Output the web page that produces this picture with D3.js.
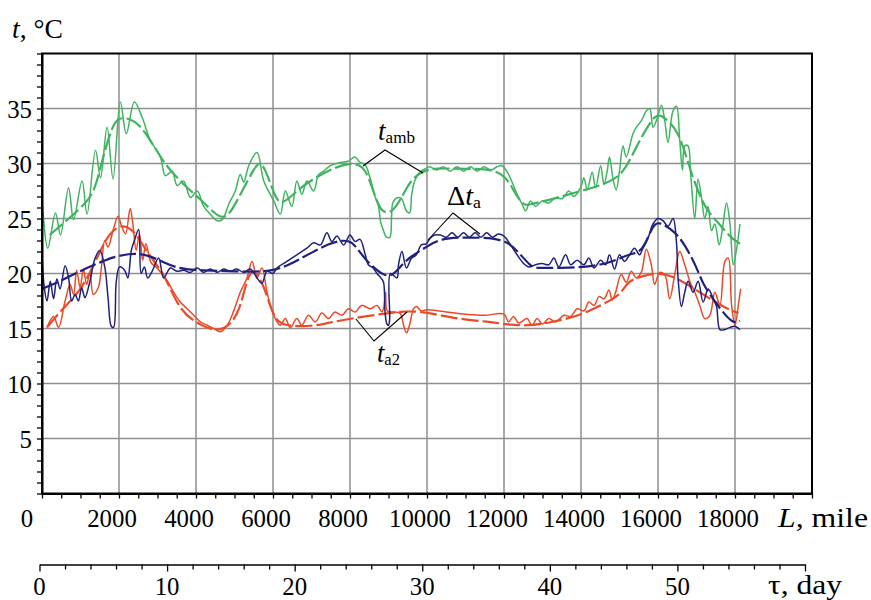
<!DOCTYPE html>
<html><head><meta charset="utf-8">
<script src="https://cdn.jsdelivr.net/npm/d3@7"></script>
<style>body{margin:0;background:#fff}svg{display:block}</style>
</head><body><svg id="c" width="871" height="600"></svg>
<script>
// ---- data: [L (mile), t (°C)] ----
const tambRaw = [[0,26.9],[150,22.3],[350,25.5],[480,23.5],[690,27.8],[820,24.9],[1040,28.4],[1170,25.4],[1390,31.2],[1520,28.7],[1690,33.3],[1845,28.6],[2035,35.6],[2190,32.7],[2400,35.6],[2600,34.2],[2815,32.1],[3075,30.6],[3205,28.9],[3380,29.3],[3510,28.0],[3680,28.4],[3855,26.9],[4030,27.5],[4200,26.1],[4370,25.4],[4550,24.8],[4680,24.9],[4850,26.3],[5020,27.5],[5150,29.0],[5240,28.3],[5370,29.8],[5585,31.0],[5760,28.4],[6020,26.6],[6190,25.4],[6320,27.5],[6490,26.1],[6620,28.4],[6750,27.2],[6880,28.4],[7055,27.5],[7185,29.0],[7315,29.3],[7490,29.8],[7745,30.1],[7950,30.2],[8130,30.6],[8260,30.1],[8390,29.9],[8520,28.7],[8650,27.0],[8735,26.2],[8795,24.7],[8860,24.0],[8950,23.3],[9035,23.3],[9080,25.2],[9120,26.5],[9250,26.9],[9340,26.8],[9465,25.7],[9550,25.5],[9600,27.1],[9680,28.4],[9810,29.2],[9940,29.5],[10070,29.7],[10250,29.4],[10420,29.7],[10600,29.3],[10780,29.7],[10950,29.3],[11130,29.7],[11300,29.3],[11480,29.7],[11650,29.4],[11820,29.7],[11950,29.8],[12120,29.0],[12340,27.2],[12470,26.3],[12560,25.7],[12690,26.6],[12820,26.1],[12990,26.6],[13165,26.4],[13340,26.9],[13510,26.8],[13685,27.5],[13815,27.0],[13990,27.8],[14075,28.7],[14160,27.6],[14290,29.2],[14380,27.8],[14510,29.8],[14595,28.1],[14680,29.3],[14740,30.6],[14827,28.7],[14914,27.6],[15000,29.3],[15090,31.6],[15175,30.6],[15350,32.7],[15440,33.3],[15570,33.9],[15700,34.8],[15785,35.0],[15870,33.3],[15960,33.9],[16090,35.3],[16175,33.9],[16260,31.9],[16390,34.8],[16480,35.2],[16565,32.1],[16635,29.4],[16695,31.6],[16780,31.6],[16845,29.2],[16955,25.0],[17040,28.6],[17130,26.9],[17215,25.0],[17300,26.1],[17390,23.9],[17475,24.5],[17590,22.6],[17690,24.5],[17780,26.4],[17870,24.5],[17955,20.8],[18040,22.2],[18130,24.5]];
const tambSmooth = [[200,23.5],[700,25.0],[1245,26.7],[1420,28.2],[1600,30.8],[1808,33.2],[1970,34.2],[2280,34.1],[2540,33.5],[2800,32.2],[3075,30.6],[3300,29.5],[3700,28.0],[4100,26.8],[4500,25.4],[4700,25.0],[4900,25.5],[5200,27.5],[5500,29.5],[5650,30.2],[5800,29.5],[6000,27.5],[6190,26.0],[6600,27.5],[7000,28.5],[7500,29.5],[8000,30.1],[8350,29.8],[8520,28.4],[8690,26.6],[8820,25.7],[8950,25.5],[9120,25.7],[9290,26.6],[9460,27.7],[9640,28.7],[9900,29.3],[10200,29.6],[11000,29.5],[11950,29.5],[12250,27.5],[12510,26.1],[12700,26.3],[13300,26.8],[13990,27.5],[14510,28.0],[15030,28.8],[15300,30.5],[15520,32.1],[15870,34.2],[16040,34.5],[16260,33.9],[16520,32.9],[16740,30.6],[16960,28.1],[17260,25.7],[17600,24.5],[17870,23.3],[18130,22.7]];
const dtaRaw = [[0,21.8],[60,18.7],[130,17.5],[215,19.3],[300,17.7],[385,19.5],[470,18.6],[600,20.7],[690,19.6],[770,17.5],[860,18.1],[945,17.5],[1030,18.7],[1115,17.8],[1245,19.3],[1370,21.3],[1500,22.1],[1630,20.6],[1715,17.8],[1800,15.2],[1860,15.1],[1930,19.3],[2015,20.6],[2145,20.3],[2230,19.6],[2320,22.1],[2400,23.0],[2510,24.0],[2575,20.0],[2660,20.6],[2745,19.6],[2860,20.2],[3030,21.4],[3160,19.6],[3335,20.5],[3505,20.2],[3680,20.3],[3850,20.1],[4030,20.5],[4200,20.1],[4370,20.4],[4550,20.1],[4720,20.4],[4890,20.2],[5060,20.4],[5240,20.1],[5410,20.4],[5585,19.6],[5710,19.1],[5845,20.2],[6000,20.0],[6100,20.5],[6360,21.1],[6620,21.7],[6880,22.3],[7055,22.8],[7230,22.6],[7400,23.7],[7530,22.9],[7660,23.4],[7835,22.6],[8000,23.5],[8130,22.9],[8260,23.1],[8390,21.8],[8475,20.8],[8600,20.5],[8700,20.0],[8800,19.6],[8870,19.2],[8910,16.5],[8960,15.4],[9000,15.3],[9030,15.8],[9050,20.0],[9220,19.6],[9260,20.8],[9350,22.0],[9465,20.5],[9600,21.4],[9725,21.7],[9850,22.6],[9980,22.7],[10080,23.2],[10200,23.5],[10350,23.5],[10500,23.3],[10650,23.7],[10800,23.3],[10950,23.7],[11100,23.3],[11250,23.7],[11400,23.3],[11550,23.7],[11700,23.3],[11850,23.6],[12000,23.4],[12170,22.6],[12340,21.7],[12510,20.9],[12640,20.6],[12820,20.8],[12990,20.9],[13165,20.8],[13295,21.4],[13425,20.6],[13600,21.7],[13730,20.8],[13900,21.2],[14075,20.8],[14205,21.4],[14335,20.5],[14510,21.2],[14640,20.8],[14740,21.7],[14870,20.4],[15000,21.7],[15130,21.1],[15262,21.7],[15390,22.3],[15520,21.7],[15609,22.3],[15740,23.2],[15870,24.5],[16000,25.0],[16130,24.8],[16260,24.3],[16391,25.0],[16478,22.9],[16521,19.6],[16608,17.0],[16695,18.3],[16782,19.3],[16912,18.3],[17043,19.3],[17173,17.4],[17304,18.6],[17434,17.7],[17521,17.0],[17608,14.9],[17738,14.9],[17868,15.1],[17998,15.2],[18129,14.9]];
const dtaSmooth = [[0,18.6],[470,19.3],[815,19.9],[1150,20.5],[1500,21.0],[1845,21.5],[2270,21.8],[2560,21.8],[2870,21.5],[3170,21.0],[3500,20.5],[4000,20.3],[5000,20.2],[6000,20.1],[6600,21.1],[7500,22.9],[8000,23.1],[8180,22.3],[8440,21.1],[8700,20.3],[8900,19.8],[9100,19.8],[9300,20.6],[9550,21.5],[9980,22.4],[10350,23.2],[11000,23.3],[12000,23.2],[12340,22.1],[12700,20.6],[12860,20.5],[13470,20.5],[14150,20.6],[14680,20.9],[15030,21.4],[15300,21.8],[15610,22.0],[15870,24.5],[16040,24.7],[16390,23.9],[16520,23.4],[16700,22.6],[17000,20.6],[17170,19.0],[17430,17.7],[17610,16.8],[17950,15.4],[18130,15.7]];
const ta2Raw = [[130,15.1],[300,16.1],[430,15.1],[600,17.5],[730,19.0],[820,18.1],[900,20.3],[990,18.7],[1075,20.4],[1160,19.0],[1245,20.1],[1330,18.1],[1460,18.7],[1545,20.6],[1630,23.0],[1715,22.4],[1845,23.9],[1975,25.2],[2060,24.4],[2170,23.6],[2290,25.9],[2360,24.5],[2445,22.1],[2530,23.6],[2615,21.2],[2700,22.7],[2830,21.0],[2960,20.6],[3130,19.9],[3260,19.3],[3420,18.3],[3590,17.4],[3770,16.8],[3940,16.2],[4110,15.6],[4290,15.3],[4460,15.0],[4630,14.7],[4810,15.3],[4980,16.6],[5150,18.3],[5325,19.6],[5455,21.1],[5585,19.6],[5715,20.5],[5845,18.3],[6020,16.2],[6190,15.3],[6320,15.9],[6450,15.1],[6620,15.9],[6750,15.3],[6920,16.2],[7100,15.6],[7270,16.4],[7440,15.9],[7610,16.5],[7790,16.2],[7960,16.8],[8130,16.5],[8300,17.1],[8530,16.8],[8700,17.1],[8830,16.5],[8880,17.0],[8925,18.3],[8970,16.6],[9150,16.5],[9300,16.4],[9400,15.2],[9470,14.6],[9560,15.5],[9650,16.8],[9727,17.0],[9850,16.6],[10000,16.7],[10500,16.5],[11000,16.3],[11500,16.2],[12000,16.3],[12120,15.6],[12250,16.1],[12380,15.5],[12600,15.9],[12730,15.3],[12860,15.9],[13000,15.4],[13160,15.9],[13340,15.6],[13555,16.2],[13730,16.1],[13900,16.8],[14075,16.6],[14205,17.4],[14340,17.1],[14470,17.9],[14600,17.7],[14725,18.5],[14810,17.6],[14900,18.3],[15044,19.9],[15175,19.2],[15305,20.2],[15435,19.6],[15565,20.1],[15696,22.2],[15826,20.8],[15913,19.0],[16043,20.1],[16175,19.9],[16304,17.7],[16435,19.9],[16565,22.0],[16695,20.8],[16825,19.3],[16956,18.3],[17086,17.1],[17217,15.9],[17347,16.2],[17477,18.3],[17608,17.1],[17738,21.1],[17825,21.4],[17912,17.1],[18000,15.3],[18086,17.1],[18146,18.6]];
const ta2Smooth = [[130,15.1],[560,16.9],[990,18.4],[1330,20.6],[1670,23.3],[1930,24.2],[2190,24.4],[2450,23.6],[2700,22.1],[2960,20.9],[3220,19.6],[3590,16.5],[4110,15.3],[4550,14.7],[4900,15.3],[5150,16.8],[5330,19.6],[5500,20.5],[5760,19.0],[6020,15.9],[6280,15.2],[7055,15.2],[7400,15.5],[8180,16.0],[8800,16.3],[9400,16.6],[10000,16.5],[10700,15.9],[11650,15.6],[12000,15.4],[12600,15.2],[13300,15.6],[13990,16.2],[14500,17.1],[15030,18.0],[15200,19.3],[15600,19.8],[16050,20.1],[16480,19.6],[16900,18.7],[17350,17.7],[17780,16.8],[18090,16.4]];
const yTickLabels = [5,10,15,20,25,30,35];
const lTickLabels = [0,2000,4000,6000,8000,10000,12000,14000,16000,18000];
const tauTickLabels = [0,10,20,30,40,50];

// ---- layout ----
const svg = d3.select("#c");
const X0=42, X1=812, Y0=493.5, Y1=53.5;
const x = d3.scaleLinear().domain([0,20000]).range([X0,X1]);
const y = d3.scaleLinear().domain([0,40]).range([Y0,Y1]);
const tau = d3.scaleLinear().domain([0,60]).range([39.5,805]);
const GREEN="#3fb460", BLUE="#20207e", RED="#ec4a26";
const DIGIT = 12.4; // width of one digit
function txt(sel){ return sel.style("font-family",'"Liberation Serif"').attr("lengthAdjust","spacingAndGlyphs"); }

// grid
const g = svg.append("g");
g.selectAll(".gx").data(d3.range(2000,20000,2000)).join("line")
  .attr("x1",d=>x(d)).attr("x2",d=>x(d)).attr("y1",Y1).attr("y2",Y0)
  .attr("stroke","#8e8e8e").attr("stroke-width",1.5);
g.selectAll(".gy").data(d3.range(5,40,5)).join("line")
  .attr("x1",X0).attr("x2",X1).attr("y1",d=>y(d)).attr("y2",d=>y(d))
  .attr("stroke","#8e8e8e").attr("stroke-width",1.5);

// curves
const line = d3.line().x(d=>x(d[0])).y(d=>y(d[1])).curve(d3.curveCatmullRom.alpha(0.5));
const smooth = d3.line().x(d=>x(d[0])).y(d=>y(d[1])).curve(d3.curveBasis);
const series = [
  [tambRaw,GREEN,false],[tambSmooth,GREEN,true],
  [ta2Raw,RED,false],[ta2Smooth,RED,true],
  [dtaRaw,BLUE,false],[dtaSmooth,BLUE,true]
];
series.forEach(([d,c,s])=>{
  svg.append("path").attr("d",(s?smooth:line)(d)).attr("fill","none")
    .attr("stroke",c).attr("stroke-width",s?2.2:1.5)
    .attr("stroke-dasharray",s?"17,4":null).attr("stroke-linejoin","round");
});

// frame
svg.append("rect").attr("x",X0).attr("y",Y1).attr("width",X1-X0).attr("height",Y0-Y1)
  .attr("fill","none").attr("stroke","#000").attr("stroke-width",2);

// axes
const ax = svg.append("g").attr("transform",`translate(0,${Y0})`)
  .call(d3.axisBottom(x).tickValues(d3.range(0,20001,500)).tickSize(5).tickSizeOuter(0).tickFormat(""));
ax.select(".domain").attr("stroke-width",2);
ax.selectAll(".tick line").attr("stroke-width",1.3);
ax.selectAll("text").remove();
txt(svg.selectAll(".lt").data(lTickLabels).join("text").attr("class","lt")
  .attr("x",d=>x(d)-(d===0?15:7)).attr("y",527).attr("text-anchor","middle")
  .attr("font-size",25).attr("textLength",d=>String(d).length*DIGIT).text(d=>d));
const lt = txt(svg.append("text").attr("x",778).attr("y",527).attr("font-size",27).attr("textLength",90));
lt.append("tspan").style("font-style","italic").text("L");
lt.append("tspan").text(", mile");

const ay = svg.append("g").attr("transform",`translate(${X0},0)`)
  .call(d3.axisLeft(y).tickValues(d3.range(0,41,1)).tickSize(5).tickSizeOuter(0).tickFormat(""));
ay.select(".domain").attr("stroke-width",2);
ay.selectAll(".tick line").attr("stroke-width",1.3);
ay.selectAll("text").remove();
txt(svg.selectAll(".yt").data(yTickLabels).join("text").attr("class","yt")
  .attr("x",32).attr("y",d=>y(d)+9).attr("text-anchor","end")
  .attr("font-size",25).attr("textLength",d=>String(d).length*DIGIT).text(d=>d));
const yl = txt(svg.append("text").attr("x",12).attr("y",38).attr("font-size",27).attr("textLength",51));
yl.append("tspan").style("font-style","italic").text("t");
yl.append("tspan").text(", °C");

const at = svg.append("g").attr("transform","translate(0,564.5)")
  .call(d3.axisBottom(tau).tickValues(d3.range(0,61,2)).tickSize(5).tickSizeOuter(0).tickFormat(""));
at.select(".domain").attr("stroke-width",1.6);
at.selectAll(".tick line").attr("stroke-width",1.3).attr("y2",d=>d%10===0?7:5);
at.selectAll("text").remove();
txt(svg.selectAll(".tt").data(tauTickLabels).join("text").attr("class","tt")
  .attr("x",d=>tau(d)).attr("y",595).attr("text-anchor","middle")
  .attr("font-size",25).attr("textLength",d=>String(d).length*DIGIT).text(d=>d));
txt(svg.append("text").attr("x",768).attr("y",594).attr("font-size",27).attr("textLength",74).text("τ, day"));

// annotations
function leader(pts){
  svg.append("path").attr("d",d3.line()(pts)).attr("fill","none").attr("stroke","#000").attr("stroke-width",1.1);
}
leader([[363,166],[385,150],[423,173]]);
leader([[428,240],[453,213],[480,234]]);
leader([[356,319],[374,341],[407,312]]);
function label(xp,yp,w,main,sub,pre){
  const t = txt(svg.append("text").attr("x",xp).attr("y",yp).attr("font-size",27).attr("textLength",w));
  if(pre) t.append("tspan").text(pre);
  t.append("tspan").style("font-style","italic").text(main);
  t.append("tspan").attr("font-size",17).attr("dy",3).text(sub);
}
label(378,140,37,"t","amb");
label(447,205,34,"t","a","Δ");
label(377,362,23,"t","a2");
</script></body></html>
